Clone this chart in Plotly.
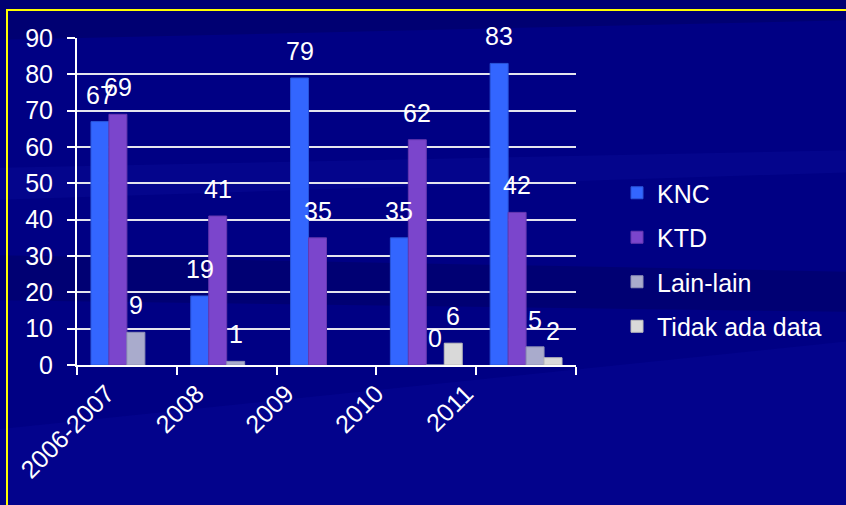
import plotly.graph_objects as go

# Category labels and series values (None = no bar drawn)
categories = ["2006-2007", "2008", "2009", "2010", "2011"]
knc = [67, 19, 79, 35, 83]
ktd = [69, 41, 35, 62, 42]
lain_lain = [9, 1, None, 0, 5]
tidak_ada_data = [None, None, None, 6, 2]

series = [
    ("KNC", knc, "#3366FF", "#2A55D8"),
    ("KTD", ktd, "#7B45CC", "#6638B0"),
    ("Lain-lain", lain_lain, "#A9ABCC", "#9092B8"),
    ("Tidak ada data", tidak_ada_data, "#D9D9D9", "#BDBDBD"),
]

FONT = "Arial, Liberation Sans, sans-serif"
FS = 25
BARGAP = 0.28
W, H = 846, 505
L, R, T, B = 77, 270, 38, 140

fig = go.Figure()
n = len(series)
bar_w = (1 - BARGAP) / n

annotations = []
for i, (name, vals, color, edge) in enumerate(series):
    fig.add_trace(go.Bar(
        name=name, x=categories, y=vals,
        marker=dict(color=color, line=dict(color=edge, width=1)),
        legendgroup=name,
    ))
    offset = (i - (n - 1) / 2) * bar_w
    for j, v in enumerate(vals):
        if v is None:
            continue
        annotations.append(dict(
            x=j + offset, y=v, xref="x", yref="y",
            text=str(v), showarrow=False,
            xanchor="center", yanchor="bottom", yshift=11,
            font=dict(family=FONT, size=FS, color="white"),
        ))

# label-only axis carrying the rotated category names
fig.add_trace(go.Scatter(
    x=categories, y=[None] * len(categories), xaxis="x2",
    mode="markers", showlegend=False, hoverinfo="skip",
))

plot_w = W - L - R
plot_h = H - T - B

def px_x(p):
    return (p - L) / plot_w

def px_y(p):
    return (H - B - p) / plot_h

def band(x0, y0a, y0b, x1, y1a, y1b, color):
    # slanted background streak in pixel space
    path = (f"M {px_x(x0)} {px_y(y0a)} L {px_x(x1)} {px_y(y1a)} "
            f"L {px_x(x1)} {px_y(y1b)} L {px_x(x0)} {px_y(y0b)} Z")
    return dict(type="path", xref="paper", yref="paper", path=path,
                fillcolor=color, line=dict(width=0), layer="below")

shapes = [
    band(-10, -10, 40, 860, -10, 20, "rgba(0,0,60,0.25)"),
    band(-10, 168, 200, 860, 150, 172, "rgba(40,60,220,0.09)"),
    band(-10, 255, 300, 860, 272, 312, "rgba(0,0,50,0.2)"),
    band(-10, 430, 520, 860, 340, 520, "rgba(20,20,190,0.15)"),
    # yellow frame around the slide content
    dict(type="rect", xref="paper", yref="paper",
         x0=px_x(7), x1=px_x(860), y0=px_y(520), y1=px_y(10),
         line=dict(color="#FFFF00", width=2), layer="below"),
]

axis_font = dict(family=FONT, size=FS, color="white")

fig.update_layout(
    width=W, height=H,
    margin=dict(l=L, r=R, t=T, b=B, pad=0),
    paper_bgcolor="#000084",
    plot_bgcolor="rgba(0,0,0,0)",
    barmode="group", bargap=BARGAP, bargroupgap=0,
    font=axis_font,
    showlegend=True,
    legend=dict(
        x=px_x(617), xanchor="left",
        y=px_y(170), yanchor="top",
        traceorder="grouped", tracegroupgap=9,
        font=axis_font,
        bgcolor="rgba(0,0,0,0)",
    ),
    annotations=annotations,
    shapes=shapes,
    xaxis=dict(
        type="category", showgrid=False,
        showline=True, linecolor="white", linewidth=2,
        ticks="outside", ticklen=8, tickwidth=2, tickcolor="white",
        tickson="boundaries", showticklabels=False,
        zeroline=False,
    ),
    xaxis2=dict(
        type="category", overlaying="x", anchor="y", side="bottom",
        categoryorder="array", categoryarray=categories,
        range=[-0.334, 5.226],
        showgrid=False, showline=False, zeroline=False,
        ticks="outside", ticklen=3, tickcolor="rgba(0,0,0,0)",
        tickangle=-45, ticklabelstandoff=0,
        tickfont=axis_font,
    ),
    yaxis=dict(
        range=[0, 90], dtick=10, tick0=0,
        showgrid=True, gridcolor="#E4E4EE", gridwidth=2,
        showline=True, linecolor="white", linewidth=2,
        ticks="outside", ticklen=8, tickwidth=2, tickcolor="white",
        ticklabelstandoff=9,
        tickfont=axis_font,
        zeroline=False,
    ),
)

fig.write_html("out.html")
